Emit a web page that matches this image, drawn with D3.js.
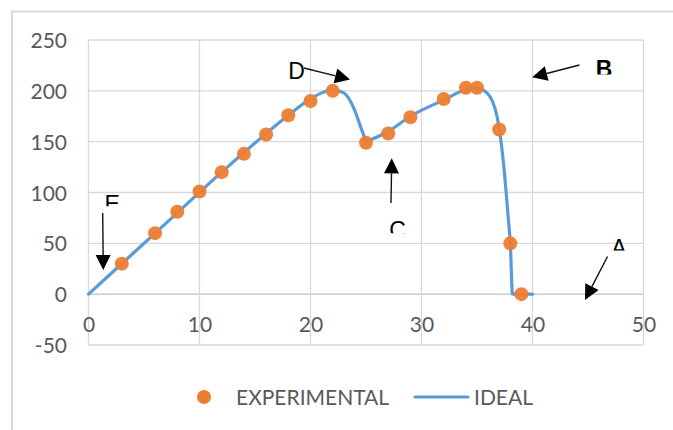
<!DOCTYPE html>
<html>
<head>
<meta charset="utf-8">
<script src="https://cdn.jsdelivr.net/npm/d3@7/dist/d3.min.js"></script>
<style>
  html, body { margin: 0; padding: 0; background: #fff; }
  svg { display: block; }
</style>
</head>
<body>
<svg id="chart" width="673" height="430"></svg>
<script>
// ---- data ----
const expX = [3, 6, 8, 10, 12, 14, 16, 18, 20, 22, 25, 27, 29, 32, 34, 35, 37, 38, 39];
const expY = [30, 60, 81, 101, 120, 138, 157, 176, 190, 200, 149, 158, 174, 192, 203, 203, 162, 50, 0];

const idealX1 = [0, 4, 8, 12, 16, 18, 20, 21, 22, 23, 23.9, 24.5, 25];
const idealY1 = [0, 40, 80, 120, 158, 176, 192, 198, 201, 198, 183, 165, 150];
const idealX2 = [25, 27, 29, 32, 34, 35, 35.9, 36.8, 37.5, 37.8, 38.0, 38.2, 40];
const idealY2 = [150, 160, 175, 191, 201, 202.5, 198, 175, 116, 77, 50, 0, 0];

const xTicks = [0, 10, 20, 30, 40, 50];
const yTicks = [-50, 0, 50, 100, 150, 200, 250];

const seriesNames = ["EXPERIMENTAL", "IDEAL"];

// annotation labels and arrows (data coordinates)
const annLabels = ["E", "D", "C", "B", "A"];
const annTextX = [1.45, 18.0, 27.1, 45.7, 47.1];
const annTextY = [81, 212, 55, 213.5, 38];
const annFromX = [1.28, 19.41, 27.25, 44.23, 46.76];
const annFromY = [79.8, 222.5, 89.7, 225.4, 37.0];
const annToX = [1.33, 23.56, 27.32, 39.97, 44.73];
const annToY = [23.8, 211.1, 133.6, 213.3, -5.7];
// visible portion of each label (clip bottom, data units)
const annClipY = [86.5, 200, 60, 216, 43];

// ---- layout ----
const svg = d3.select("#chart");
const x = d3.scaleLinear().domain([0, 50]).range([88.5, 643.5]);
const y = d3.scaleLinear().domain([-50, 250]).range([345, 40]);

const gridColor = "#d9d9d9";
const textColor = "#595959";
const orange = "#ED7D31";
const blue = "#5B9BD5";

// chart area border (top + left)
svg.append("path")
  .attr("d", "M12,430 L12,11.5 L673,11.5")
  .attr("fill", "none")
  .attr("stroke", "#d9d9d9")
  .attr("stroke-width", 2);

// gridlines
const grid = svg.append("g");
grid.selectAll("line.h").data(yTicks).join("line")
  .attr("x1", x(0)).attr("x2", x(50))
  .attr("y1", d => y(d)).attr("y2", d => y(d))
  .attr("stroke", d => d === 0 ? "#bfbfbf" : gridColor)
  .attr("stroke-width", 1.3);
grid.selectAll("line.v").data(xTicks).join("line")
  .attr("y1", y(-50)).attr("y2", y(250))
  .attr("x1", d => x(d)).attr("x2", d => x(d))
  .attr("stroke", gridColor)
  .attr("stroke-width", 1.3);

// axes labels via d3 axes
const fmt = d => String(d);
const yAxis = d3.axisLeft(y).tickValues(yTicks).tickSize(0).tickPadding(0).tickFormat(fmt);
const yg = svg.append("g").attr("transform", "translate(67,0)").call(yAxis);
yg.select(".domain").remove();
yg.selectAll("text")
  .attr("fill", textColor)
  .style("font-family", "Lato, 'Open Sans', sans-serif")
  .style("font-size", "21px")
  .attr("dy", "0.36em");

const xAxis = d3.axisBottom(x).tickValues(xTicks).tickSize(0).tickPadding(0).tickFormat(fmt);
const xg = svg.append("g").attr("transform", "translate(0,318)").call(xAxis);
xg.select(".domain").remove();
xg.selectAll("text")
  .attr("fill", textColor)
  .style("font-family", "Lato, 'Open Sans', sans-serif")
  .style("font-size", "21px")
  .attr("dy", "0.68em");

// ideal line
const line = d3.line().x(d => x(d[0])).y(d => y(d[1])).curve(d3.curveMonotoneX);
const seg1 = idealX1.map((v, i) => [v, idealY1[i]]);
const seg2 = idealX2.map((v, i) => [v, idealY2[i]]);
[seg1, seg2].forEach(seg => {
  svg.append("path")
    .attr("d", line(seg))
    .attr("fill", "none")
    .attr("stroke", blue)
    .attr("stroke-width", 3.2)
    .attr("stroke-linejoin", "round")
    .attr("stroke-linecap", "round");
});

// experimental points
svg.append("g").selectAll("circle")
  .data(expX.map((v, i) => [v, expY[i]]))
  .join("circle")
  .attr("cx", d => x(d[0]))
  .attr("cy", d => y(d[1]))
  .attr("r", 7)
  .attr("fill", orange)
  .attr("fill-opacity", 0.95);

// annotations
const defs = svg.append("defs");
const ann = svg.append("g");
annLabels.forEach((lab, i) => {
  const clipId = "clip" + i;
  defs.append("clipPath").attr("id", clipId)
    .append("rect")
    .attr("x", x(annTextX[i]) - 5)
    .attr("y", 0)
    .attr("width", 40)
    .attr("height", y(annClipY[i]));
  ann.append("text")
    .attr("x", x(annTextX[i]))
    .attr("y", y(annTextY[i]))
    .attr("clip-path", "url(#" + clipId + ")")
    .attr("fill", "#000")
    .style("font-family", "'Liberation Sans', Arial, sans-serif")
    .style("font-size", "23px")
    .style("font-weight", lab === "B" ? "600" : "400")
    .text(lab);

  // arrow
  const x1 = x(annFromX[i]), y1 = y(annFromY[i]);
  const x2 = x(annToX[i]), y2 = y(annToY[i]);
  const dx = x2 - x1, dy = y2 - y1;
  const len = Math.hypot(dx, dy);
  const ux = dx / len, uy = dy / len;
  const headL = 15, headW = 7.5;
  const bx = x2 - ux * headL, by = y2 - uy * headL;
  ann.append("line")
    .attr("x1", x1).attr("y1", y1)
    .attr("x2", bx).attr("y2", by)
    .attr("stroke", "#111")
    .attr("stroke-width", 1.4);
  ann.append("path")
    .attr("d", `M${x2},${y2} L${bx - uy * headW},${by + ux * headW} L${bx + uy * headW},${by - ux * headW} Z`)
    .attr("fill", "#000");
});

// legend
const lg = svg.append("g");
lg.append("circle").attr("cx", 204).attr("cy", 397).attr("r", 7).attr("fill", orange);
lg.append("text").attr("x", 236).attr("y", 405)
  .attr("fill", textColor)
  .style("font-family", "Lato, 'Open Sans', sans-serif")
  .style("font-size", "21px")
  .text(seriesNames[0]);
lg.append("line").attr("x1", 415).attr("x2", 468).attr("y1", 397).attr("y2", 397)
  .attr("stroke", blue).attr("stroke-width", 3.2).attr("stroke-linecap", "round");
lg.append("text").attr("x", 474).attr("y", 405)
  .attr("fill", textColor)
  .style("font-family", "Lato, 'Open Sans', sans-serif")
  .style("font-size", "21px")
  .text(seriesNames[1]);
</script>
</body>
</html>
